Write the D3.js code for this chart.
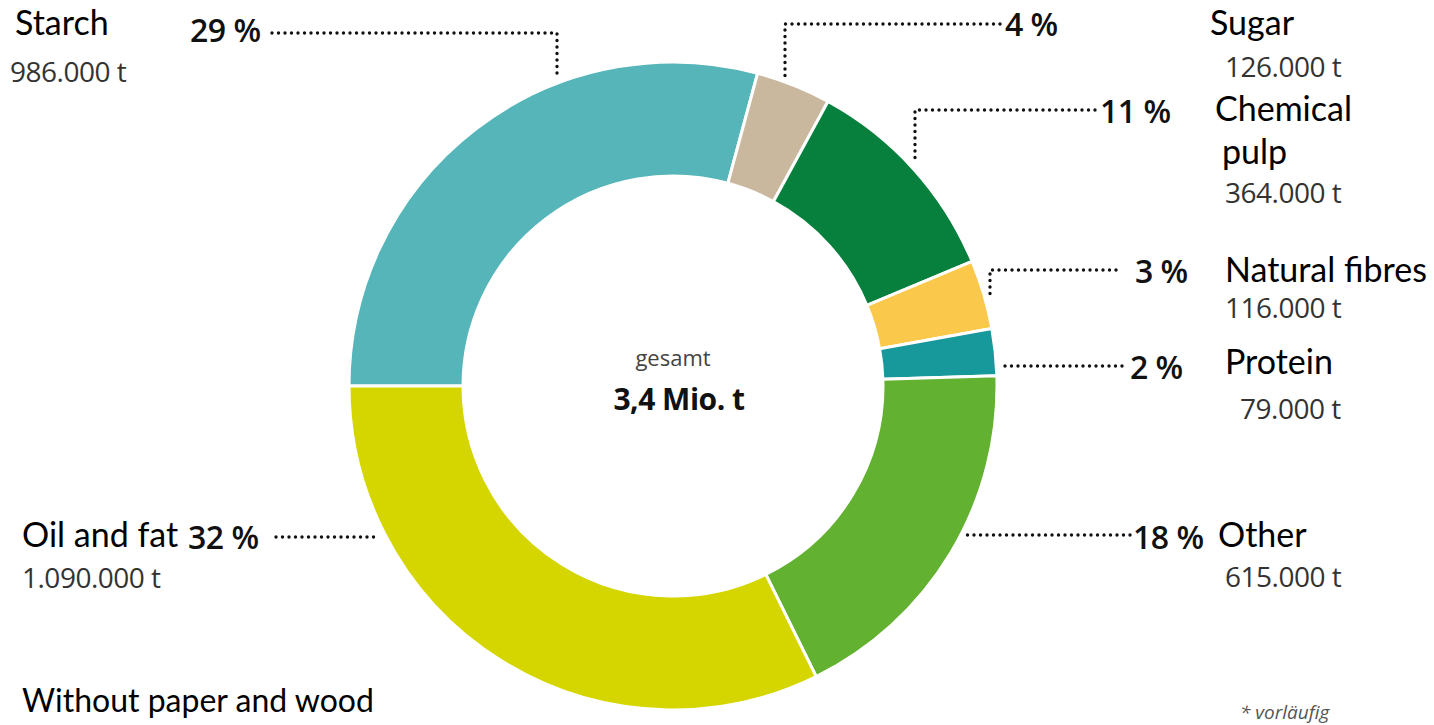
<!DOCTYPE html>
<html>
<head>
<meta charset="utf-8">
<script src="https://cdn.jsdelivr.net/npm/d3@7/dist/d3.min.js"></script>
<style>
  html, body { margin: 0; padding: 0; background: #fff; }
  svg { display: block; }
  .name { font-family: Lato, "Open Sans", sans-serif; fill: #000; }
  .amt { font-family: "Open Sans", sans-serif; fill: #333; letter-spacing: -0.5px; }
  .pct { font-family: "Open Sans", sans-serif; fill: #111; letter-spacing: -0.5px; }
</style>
</head>
<body>
<svg id="chart" width="1434" height="725"></svg>
<script>
// ---- data ----
const categories = ["Starch", "Sugar", "Chemical pulp", "Natural fibres", "Protein", "Other", "Oil and fat"];
const tonnes = [986000, 126000, 364000, 116000, 79000, 615000, 1090000];
const percentLabels = ["29 %", "4 %", "11 %", "3 %", "2 %", "18 %", "32 %"];
const amountLabels = ["986.000 t", "126.000 t", "364.000 t", "116.000 t", "79.000 t", "615.000 t", "1.090.000 t"];
const nameLines = [["Starch"], ["Sugar"], ["Chemical", "pulp"], ["Natural fibres"], ["Protein"], ["Other"], ["Oil and fat"]];
const colors = ["#55b5b9", "#c9b89e", "#07803d", "#fac84a", "#17989b", "#63b130", "#d5d600"];
const totalLabel = ["gesamt", "3,4 Mio. t"];
const noteLabel = "Without paper and wood";
const footnote = "* vorläufig";

// ---- layout (positions only) ----
const cx = 673, cy = 386, R = 324, r0 = 210, gap = 6;
const layout = [
  { side: "L", ly: 33,  lx: 272,  elbow: 557, pct: [190, 42],  name: [15, 35],  amt: [10, 82],   lineH: 0 },
  { side: "R", ly: 24,  lx: 1000, elbow: 785, pct: [1005, 36], name: [1210, 35], amt: [1225, 77], lineH: 0 },
  { side: "R", ly: 110, lx: 1095, elbow: 915, pct: [1100, 123], name: [1215, 121], amt: [1225, 203], lineH: 43 },
  { side: "R", ly: 270, lx: 1116, elbow: 990, pct: [1135, 283], name: [1225, 282], amt: [1225, 318], lineH: 0 },
  { side: "R", ly: 366, lx: 1122, elbow: null, pct: [1130, 379], name: [1225, 374], amt: [1240, 419], lineH: 0 },
  { side: "R", ly: 535, lx: 1130, elbow: null, pct: [1133, 549], name: [1218, 547], amt: [1225, 587], lineH: 0 },
  { side: "L", ly: 537, lx: 276,  elbow: null, pct: [188, 549], name: [22, 547],  amt: [22, 588],   lineH: 0 }
];

const svg = d3.select("#chart");
const g = svg.append("g").attr("transform", `translate(${cx},${cy})`);

const pie = d3.pie().sort(null).value(d => d)
  .startAngle(-Math.PI / 2).endAngle(1.5 * Math.PI);
const arc = d3.arc().innerRadius(r0).outerRadius(R);
const arcs = pie(tonnes);

g.selectAll("path.slice").data(arcs).join("path")
  .attr("class", "slice")
  .attr("d", arc)
  .attr("fill", (d, i) => colors[i])
  .attr("stroke", "#fff")
  .attr("stroke-width", 3)
  .attr("stroke-linejoin", "round");

// leader lines
const Rl = R + gap;
const leader = svg.append("g")
  .attr("fill", "none").attr("stroke", "#111")
  .attr("stroke-width", 3.4).attr("stroke-linecap", "round")
  .attr("stroke-dasharray", "0 6.5");

arcs.forEach((a, i) => {
  const L = layout[i];
  let pts;
  if (L.elbow !== null) {
    const dx = L.elbow - cx;
    const yEnd = cy - Math.sqrt(Rl * Rl - dx * dx);
    pts = [[L.lx, L.ly], [L.elbow, L.ly], [L.elbow, yEnd]];
  } else {
    const dy = L.ly - cy;
    const sgn = L.side === "R" ? 1 : -1;
    const xEnd = cx + sgn * Math.sqrt(Rl * Rl - dy * dy);
    pts = [[L.lx, L.ly], [xEnd, L.ly]];
  }
  leader.append("path").attr("d", d3.line()(pts));
});

// labels
const lab = svg.append("g");
categories.forEach((c, i) => {
  const L = layout[i];
  lab.append("text").attr("class", "pct")
    .attr("x", L.pct[0]).attr("y", L.pct[1])
    .attr("font-size", 32).attr("font-weight", 600)
    .text(percentLabels[i]);
  nameLines[i].forEach((ln, k) => {
    lab.append("text").attr("class", "name")
      .attr("x", L.name[0] + (k > 0 ? 7 : 0)).attr("y", L.name[1] + k * L.lineH)
      .attr("font-size", 34)
      .text(ln);
  });
  lab.append("text").attr("class", "amt")
    .attr("x", L.amt[0]).attr("y", L.amt[1])
    .attr("font-size", 28)
    .text(amountLabels[i]);
});

// centre
svg.append("text").attr("x", cx).attr("y", 366).attr("text-anchor", "middle")
  .attr("font-family", "'Open Sans', sans-serif")
  .attr("font-size", 22).attr("fill", "#444").text(totalLabel[0]);
svg.append("text").attr("x", cx + 6).attr("y", 410).attr("text-anchor", "middle")
  .attr("font-family", "'Open Sans', sans-serif").attr("letter-spacing", "-0.5px")
  .attr("font-size", 30).attr("font-weight", 700).attr("fill", "#111").text(totalLabel[1]);

svg.append("text").attr("class", "name").attr("x", 22).attr("y", 712)
  .attr("font-size", 32).text(noteLabel);
svg.append("text").attr("x", 1240).attr("y", 719)
  .attr("font-family", "'Open Sans', sans-serif")
  .attr("font-style", "italic").attr("font-size", 19).attr("fill", "#555").text(footnote);
</script>
</body>
</html>
